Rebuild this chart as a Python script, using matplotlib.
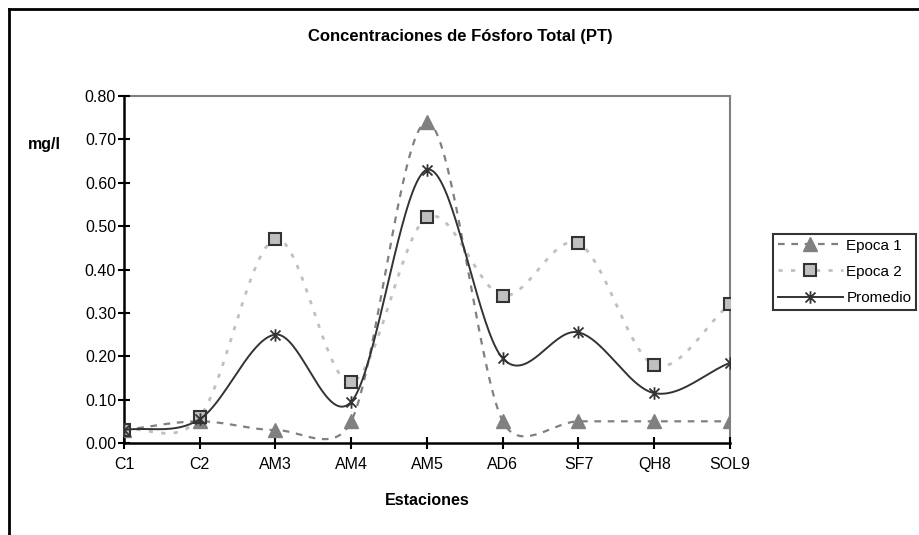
import numpy as np
import matplotlib
matplotlib.use("Agg")
import matplotlib.pyplot as plt
from matplotlib.path import Path
from matplotlib.lines import Line2D

plt.rcParams['font.family'] = ['Liberation Sans', 'DejaVu Sans']

estaciones = ["C1", "C2", "AM3", "AM4", "AM5", "AD6", "SF7", "QH8", "SOL9"]
epoca1 = [0.03, 0.05, 0.03, 0.05, 0.74, 0.05, 0.05, 0.05, 0.05]
epoca2 = [0.03, 0.06, 0.47, 0.14, 0.52, 0.34, 0.46, 0.18, 0.32]
promedio = [0.03, 0.055, 0.25, 0.095, 0.63, 0.195, 0.255, 0.115, 0.185]
yticks = [0.00, 0.10, 0.20, 0.30, 0.40, 0.50, 0.60, 0.70, 0.80]

# pixel scale of the plot area (used only for the curve smoothing geometry)
XPIX = (730 - 124) / 8.0
YPIX = (443 - 96) / 0.8


def smooth(x, y, n=40):
    """Excel-style smoothed line (Bezier segments with limited control distance)."""
    P = np.column_stack([np.asarray(x, float) * XPIX, np.asarray(y, float) * YPIX])
    m = len(P)
    t = np.linspace(0, 1, n)
    out = []
    dist = lambda a, b: float(np.hypot(*(b - a)))
    for i in range(m - 1):
        p1, p2 = P[i], P[i + 1]
        p0 = P[i - 1] if i > 0 else p1
        p3 = P[i + 2] if i + 2 < m else p2
        d12 = dist(p1, p2)
        d02 = dist(p0, p2)
        d13 = dist(p1, p3)
        f = 1 / 6 if p0[0] != p1[0] else 1 / 3
        g = 1 / 6 if p2[0] != p3[0] else 1 / 3
        if d02 / 6 >= d12 / 2:
            f = d12 / (2 * d02)
        if d13 / 6 >= d12 / 2:
            g = d12 / (2 * d13)
        c1 = p1 + f * (p2 - p0)
        c2 = p2 - g * (p3 - p1)
        b = ((1 - t) ** 3)[:, None] * p1 + (3 * (1 - t) ** 2 * t)[:, None] * c1 \
            + (3 * (1 - t) * t ** 2)[:, None] * c2 + (t ** 3)[:, None] * p2
        out.append(b)
    out = np.vstack(out)
    return out[:, 0] / XPIX, out[:, 1] / YPIX


star = Path([(0, -1), (0, 1), (-0.8, -0.8), (0.8, 0.8), (-0.8, 0.8), (0.8, -0.8)],
            [Path.MOVETO, Path.LINETO, Path.MOVETO, Path.LINETO, Path.MOVETO, Path.LINETO])

fig = plt.figure(figsize=(9.2, 5.35), dpi=100)
ax = fig.add_axes([124 / 920, 1 - 443 / 535, (730 - 124) / 920, (443 - 96) / 535])

x = np.arange(len(estaciones))

c1 = '#808080'
c2 = '#c0c0c0'
c3 = '#333333'

sx, sy = smooth(x, epoca1)
ax.plot(sx, sy, color=c1, lw=1.6, dashes=(3, 3), zorder=2)
ax.plot(x, epoca1, ls='none', marker='^', ms=10, color=c1, mec=c1, zorder=3)

sx, sy = smooth(x, epoca2)
ax.plot(sx, sy, color=c2, lw=2, dashes=(1.5, 3), zorder=4)
ax.plot(x, epoca2, ls='none', marker='s', ms=8.5, mfc=c2, mec=c3, mew=1.5, zorder=5)

sx, sy = smooth(x, promedio)
ax.plot(sx, sy, color=c3, lw=1.4, zorder=6)
ax.plot(x, promedio, ls='none', marker=star, ms=9, mec=c3, mew=1.3, zorder=7)

ax.set_xlim(0, len(estaciones) - 1)
ax.set_ylim(0, 0.8)
ax.set_xticks(x)
ax.set_xticklabels(estaciones, fontsize=11.5)
ax.set_yticks(yticks)
ax.set_yticklabels([f"{v:.2f}" for v in yticks], fontsize=11.5)
ax.tick_params(direction='inout', length=8.5, width=1.5, color='black')
ax.tick_params(axis='y', pad=1.5)
ax.tick_params(axis='x', pad=6)
for s in ('left', 'bottom'):
    ax.spines[s].set_color('black')
    ax.spines[s].set_linewidth(1.8)
for s in ('top', 'right'):
    ax.spines[s].set_color(c1)
    ax.spines[s].set_linewidth(1.5)
for sp in ax.spines.values():
    sp.set_zorder(1)
ax.set_xlabel("Estaciones", fontsize=11.5, fontweight='bold', labelpad=15)
fig.text(44 / 920, 1 - 145 / 535, "mg/l", fontsize=11.5, fontweight='bold', ha='center', va='center')
fig.text(460 / 920, 1 - 36 / 535, "Concentraciones de Fósforo Total (PT)", fontsize=12,
         fontweight='bold', ha='center', va='center')

handles = [
    Line2D([], [], color=c1, lw=1.6, dashes=(3, 3), marker='^', ms=10, mfc=c1, mec=c1),
    Line2D([], [], color=c2, lw=2, dashes=(1.5, 3), marker='s', ms=8.5, mfc=c2, mec=c3, mew=1.5),
    Line2D([], [], color=c3, lw=1.4, marker=star, ms=9, mec=c3, mew=1.3),
]
leg = fig.legend(handles, ["Epoca 1", "Epoca 2", "Promedio"], loc='upper left',
                 bbox_to_anchor=(773 / 920, 1 - 234 / 535), borderaxespad=0,
                 fontsize=11, frameon=True, fancybox=False, handlelength=4.3,
                 handletextpad=0.2, borderpad=0.3, labelspacing=0.8)
leg.get_frame().set_edgecolor('black')
leg.get_frame().set_linewidth(1.5)

# outer chart frame (left and top edges visible)
fig.add_artist(Line2D([9 / 920, 9 / 920], [0, 1 - 9 / 535], color='black', lw=2))
fig.add_artist(Line2D([9 / 920, 1], [1 - 9 / 535, 1 - 9 / 535], color='black', lw=2))

fig.savefig("out.png", dpi=100)
